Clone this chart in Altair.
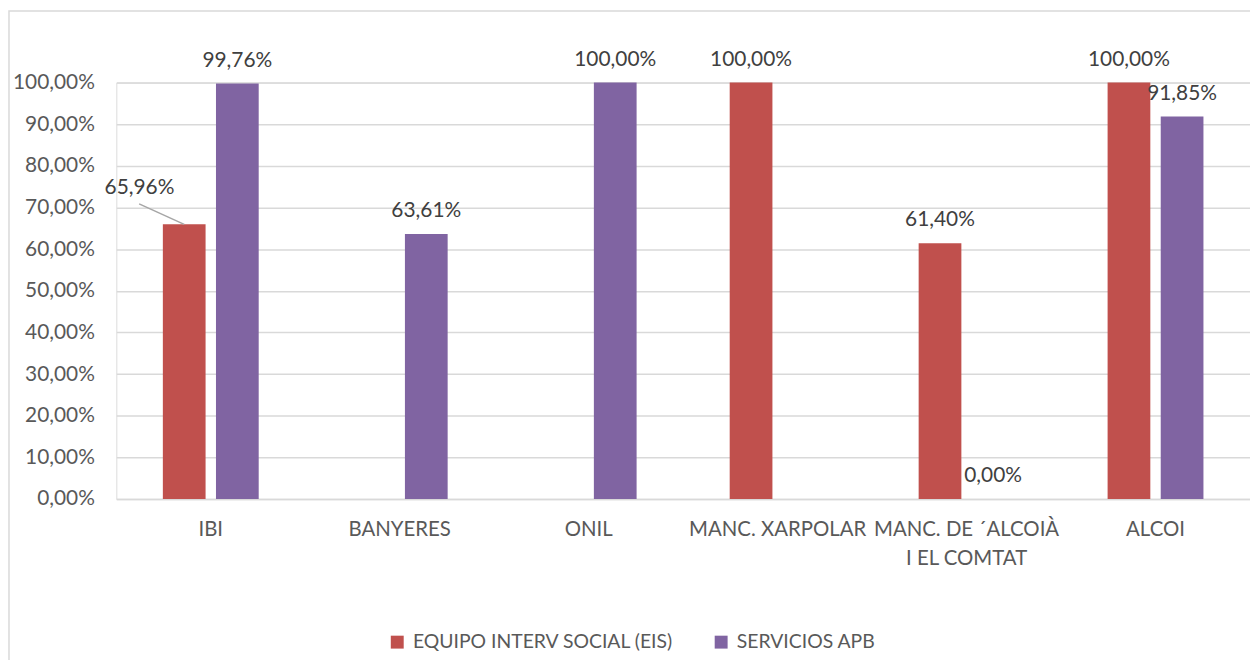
import altair as alt
import pandas as pd

categories = ["IBI", "BANYERES", "ONIL", "MANC. XARPOLAR", "MANC. DE ´ALCOIÀ|I EL COMTAT", "ALCOI"]
series = ["EQUIPO INTERV SOCIAL (EIS)", "SERVICIOS APB"]
eis = [65.96, None, None, 100.00, 61.40, 100.00]
apb = [99.76, 63.61, 100.00, None, 0.00, 91.85]
colors = ["#C0504D", "#8064A2"]
y_ticks = [0, 10, 20, 30, 40, 50, 60, 70, 80, 90, 100]

rows = []
for c, a, b in zip(categories, eis, apb):
    if a is not None:
        rows.append({"cat": c, "serie": series[0], "val": a})
    if b is not None:
        rows.append({"cat": c, "serie": series[1], "val": b})
df = pd.DataFrame(rows)

FONT = "Lato"
FS = 21
W, H = 1141, 419

x = alt.X("cat:N", sort=categories, title=None,
          scale=alt.Scale(domain=categories, paddingInner=0.495, paddingOuter=0.2475),
          axis=alt.Axis(labelExpr="split(datum.label, '|')", labelAngle=0, labelFontSize=20.5,
                        labelColor="#595959", labelFont=FONT, labelPadding=21, ticks=False,
                        domainColor="#D9D9D9", domainWidth=1.5, labelLineHeight=29, labelLimit=0))
xo = alt.XOffset("serie:N", scale=alt.Scale(domain=series, paddingInner=0.204, paddingOuter=0))
y = alt.Y("val:Q", title=None,
          scale=alt.Scale(domain=[0, 100], nice=False),
          axis=alt.Axis(values=y_ticks, labelExpr="replace(format(datum.value, '.2f'), '.', ',') + '%'",
                        labelFontSize=FS, labelColor="#595959", labelFont=FONT, labelPadding=22,
                        ticks=False, domain=False, gridColor="#D9D9D9", gridWidth=1.5))

base = alt.Chart(df)

frame = base.mark_rect(fill=None, stroke="#D9D9D9", strokeWidth=1.5, clip=False).encode(
    x=alt.value(-108), x2=alt.value(W + 40), y=alt.value(-72), y2=alt.value(H + 200)
).transform_filter("datum.cat == 'IBI' && datum.serie == '" + series[0] + "'")

bars = base.mark_bar(size=43).encode(
    x=x, xOffset=xo, y=y,
    color=alt.Color("serie:N", scale=alt.Scale(domain=series, range=colors),
                    legend=alt.Legend(title=None, orient="none", direction="horizontal",
                                      legendX=273, legendY=553, labelFontSize=19.5, labelFont=FONT,
                                      labelColor="#595959", symbolType="square", symbolSize=169,
                                      symbolStrokeWidth=0, columnPadding=38, labelOffset=6,
                                      labelLimit=0))
)

label_expr = "replace(format(datum.val, '.2f'), '.', ',') + '%'"
is_special = "datum.cat == 'IBI' && datum.serie == '" + series[0] + "'"

labels = base.mark_text(fontSize=FS, font=FONT, color="#404040", baseline="alphabetic", dy=-17).encode(
    x=x, xOffset=xo, y=y, text="lbl:N"
).transform_filter("!(" + is_special + ")").transform_calculate(lbl=label_expr)

special = base.mark_text(fontSize=FS, font=FONT, color="#404040", baseline="alphabetic", dx=-45, dy=-31).encode(
    x=x, xOffset=xo, y=y, text="lbl:N"
).transform_filter(is_special).transform_calculate(lbl=label_expr)

leader = base.mark_rule(color="#A6A6A6", strokeWidth=1.5).encode(
    x=x, xOffset=xo, y=y, x2=alt.value(23), y2=alt.value(122)
).transform_filter(is_special)

chart = alt.layer(frame, bars, leader, labels, special).properties(
    width=W, height=H,
    autosize=alt.AutoSizeParams(type="none"),
    padding={"left": 109, "top": 73, "right": 0, "bottom": 160},
).configure_view(stroke=None).configure(font=FONT)

chart.save("out.html", embed_options={"renderer": "svg", "actions": False})
